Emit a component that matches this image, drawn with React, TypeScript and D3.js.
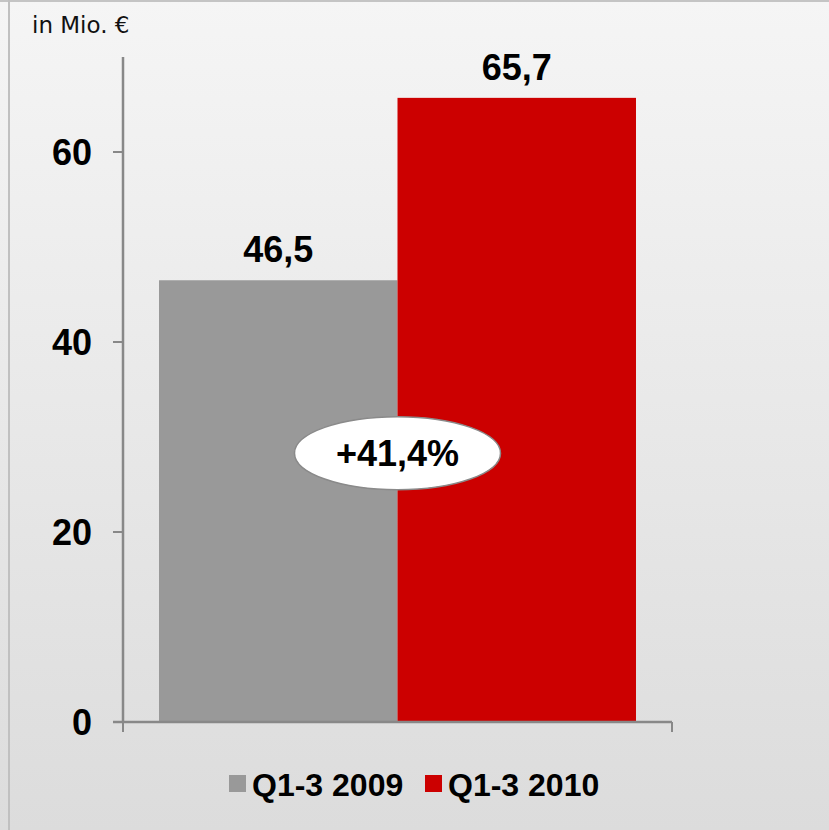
import React from "react";
import * as d3 from "d3";

const categories = ["Q1-3"];
const seriesNames = ["Q1-3 2009", "Q1-3 2010"];
const seriesValues = [46.5, 65.7];
const valueLabels = ["46,5", "65,7"];
const seriesColors = ["#999999", "#cc0000"];
const yTicks = [0, 20, 40, 60];
const changeLabel = "+41,4%";
const changeLabelLevel = 28.3;
const unitLabel = "in Mio. €";

const W = 829;
const H = 830;

export default function App() {
  const y = d3.scaleLinear().domain([0, 70]).range([722, 57]);
  const x0 = d3.scaleBand<string>().domain(categories).range([123, 672]).paddingInner(0).paddingOuter(0.0755);
  const x1 = d3.scaleBand<string>().domain(seriesNames).range([0, x0.bandwidth()]).padding(0);
  const cx = (x0(categories[0]) ?? 0);
  const font = "'Liberation Sans', Arial, sans-serif";
  const midX = cx + x0.bandwidth() / 2;
  return (
    <svg width={W} height={H} style={{ position: "absolute", left: 0, top: 0 }}>
      <defs>
        <linearGradient id="bg" x1="0" y1="0" x2="0" y2="1">
          <stop offset="0" stopColor="#f5f5f5" />
          <stop offset="1" stopColor="#dcdcdc" />
        </linearGradient>
      </defs>
      <rect x={0} y={0} width={W} height={H} fill="url(#bg)" />
      <line x1={0} x2={W} y1={1} y2={1} stroke="#c4c4c4" strokeWidth={2} />
      <line x1={9} x2={9} y1={0} y2={H} stroke="#c0c0c0" strokeWidth={2} />
      <text x={32} y={33} fontFamily="'DejaVu Sans', Verdana, sans-serif" fontSize={23} fill="#111">{unitLabel}</text>
      {seriesNames.map((s, i) => (
        <rect key={s} x={cx + (x1(s) ?? 0)} y={y(seriesValues[i])} width={x1.bandwidth()} height={y(0) - y(seriesValues[i])} fill={seriesColors[i]} />
      ))}
      {seriesNames.map((s, i) => (
        <text key={s + "l"} x={cx + (x1(s) ?? 0) + x1.bandwidth() / 2} y={y(seriesValues[i]) - 18} textAnchor="middle" fontFamily={font} fontWeight="bold" fontSize={36} fill="#000">{valueLabels[i]}</text>
      ))}
      <line x1={123} x2={123} y1={y(70)} y2={y(0)} stroke="#888" strokeWidth={2.5} />
      <line x1={113} x2={672} y1={y(0)} y2={y(0)} stroke="#888" strokeWidth={2.5} />
      <line x1={123} x2={123} y1={y(0)} y2={y(0) + 10} stroke="#888" strokeWidth={2} />
      <line x1={672} x2={672} y1={y(0)} y2={y(0) + 10} stroke="#888" strokeWidth={2} />
      {yTicks.map((t) => (
        <g key={t}>
          <line x1={113} x2={123} y1={y(t)} y2={y(t)} stroke="#888" strokeWidth={2} />
          <text x={92} y={y(t) + 13} textAnchor="end" fontFamily={font} fontWeight="bold" fontSize={36} fill="#000">{t}</text>
        </g>
      ))}
      <ellipse cx={midX} cy={y(changeLabelLevel)} rx={103} ry={36.5} fill="#fff" stroke="#8a8a8a" strokeWidth={1.5} />
      <text x={midX} y={y(changeLabelLevel) + 13} textAnchor="middle" fontFamily={font} fontWeight="bold" fontSize={36} fill="#000">{changeLabel}</text>
      {seriesNames.map((s, i) => {
        const lx = [229, 425][i];
        return (
          <g key={s + "lg"}>
            <rect x={lx} y={775} width={17} height={17} fill={seriesColors[i]} />
            <text x={lx + 23} y={796} fontFamily={font} fontWeight="bold" fontSize={32} fill="#000">{s}</text>
          </g>
        );
      })}
    </svg>
  );
}
